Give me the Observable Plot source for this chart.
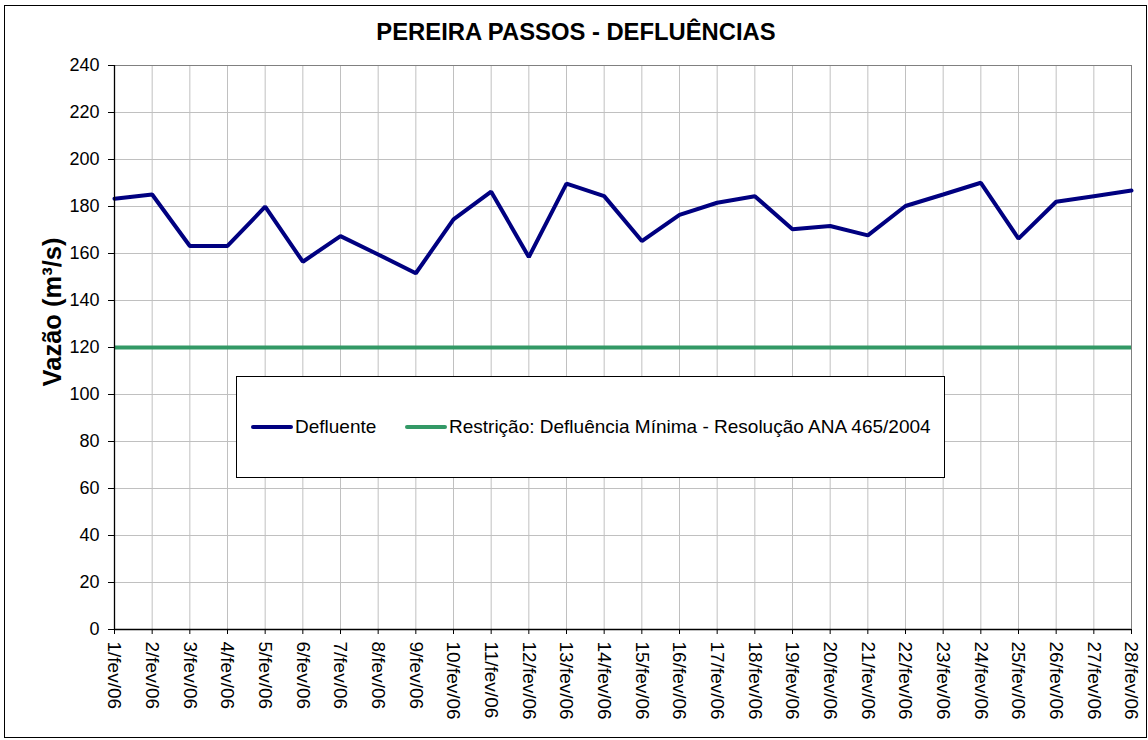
<!DOCTYPE html>
<html>
<head>
<meta charset="utf-8">
<script src="https://cdn.jsdelivr.net/npm/d3@7"></script>
<script src="https://cdn.jsdelivr.net/npm/@observablehq/plot@0.6"></script>
<style>
  body { margin: 0; background: #fff; font-family: "Liberation Sans", Arial, sans-serif; }
  #wrap { position: relative; width: 1148px; height: 740px; overflow: hidden; }
  #frame { position: absolute; left: 4px; top: 5px; width: 1143px; height: 733px; border: 1px solid #000; box-sizing: border-box; }
  #title { position: absolute; left: 0; width: 1152px; top: 18px; line-height: 28px; text-align: center; font-weight: bold; font-size: 23.8px; color: #000; }
  #ylabel { position: absolute; left: 52px; top: 312px; transform: translate(-50%, -50%) rotate(-90deg); font-weight: bold; font-size: 25.5px; white-space: nowrap; }
  #chart { position: absolute; left: 0; top: 0; }
  #legend { position: absolute; left: 236px; top: 376px; width: 709px; height: 102px; border: 1px solid #000; box-sizing: border-box; background: #fff; font-size: 19px; }
  .item { position: absolute; top: 38px; display: flex; align-items: center; height: 24px; }
  .sw { display: inline-block; width: 42px; height: 4px; border-radius: 2px; margin-right: 2px; }
</style>
</head>
<body>
<div id="wrap">
  <div id="frame"></div>
  <div id="chart"></div>
  <div id="title">PEREIRA PASSOS - DEFLUÊNCIAS</div>
  <div id="ylabel">Vazão (m³/s)</div>
  <div id="legend"></div>
</div>
<script>
const days = ["1/fev/06","2/fev/06","3/fev/06","4/fev/06","5/fev/06","6/fev/06","7/fev/06","8/fev/06","9/fev/06","10/fev/06","11/fev/06","12/fev/06","13/fev/06","14/fev/06","15/fev/06","16/fev/06","17/fev/06","18/fev/06","19/fev/06","20/fev/06","21/fev/06","22/fev/06","23/fev/06","24/fev/06","25/fev/06","26/fev/06","27/fev/06","28/fev/06"];
const defluente = [183.3,185.1,163.2,163.2,179.9,156.5,167.4,159.6,151.6,174.5,186.3,158.5,189.7,184.4,165.3,176.4,181.6,184.4,170.3,171.7,167.7,180.2,185.1,190.1,166.3,182.0,184.4,186.8];
const restricao = 120;
const yTicks = [0,20,40,60,80,100,120,140,160,180,200,220,240];
const seriesNames = ["Defluente", "Restrição: Defluência Mínima - Resolução ANA 465/2004"];
const seriesColors = ["#000080", "#339966"];

const idx = days.map((d, i) => i);
const data = days.map((d, i) => ({i, value: defluente[i]}));
const fmt = i => days[i];

const chart = Plot.plot({
  width: 1148,
  height: 740,
  marginLeft: 114,
  marginRight: 17,
  marginTop: 65,
  marginBottom: 111,
  style: {fontFamily: "'Liberation Sans', Arial, sans-serif", color: "#000", background: "transparent", overflow: "visible"},
  x: {type: "linear", domain: [0, days.length - 1]},
  y: {domain: [0, 240]},
  marks: [
    Plot.gridX(idx, {stroke: "#c0c0c0", strokeOpacity: 1}),
    Plot.gridY(yTicks, {stroke: "#c0c0c0", strokeOpacity: 1}),
    Plot.frame({stroke: "#808080"}),
    Plot.ruleY([restricao], {stroke: seriesColors[1], strokeWidth: 4}),
    Plot.line(data, {x: "i", y: "value", stroke: seriesColors[0], strokeWidth: 4, strokeLinejoin: "miter"}),
    Plot.axisY(yTicks, {tickSize: 6, tickPadding: 9, label: null, fontSize: 18}),
    Plot.axisX(idx, {tickSize: 5, tickRotate: 90, tickPadding: 7, label: null, fontSize: 19, tickFormat: fmt}),
    Plot.ruleX([0], {stroke: "#000", strokeWidth: 1.3}),
    Plot.ruleY([0], {stroke: "#000", strokeWidth: 1.3})
  ]
});
document.getElementById("chart").appendChild(chart);

const legend = document.getElementById("legend");
const lefts = [14, 168];
seriesNames.forEach((name, i) => {
  const it = document.createElement("div");
  it.className = "item";
  it.style.left = lefts[i] + "px";
  const sw = document.createElement("span");
  sw.className = "sw";
  sw.style.background = seriesColors[i];
  const tx = document.createElement("span");
  tx.textContent = name;
  it.appendChild(sw);
  it.appendChild(tx);
  legend.appendChild(it);
});
</script>
</body>
</html>
